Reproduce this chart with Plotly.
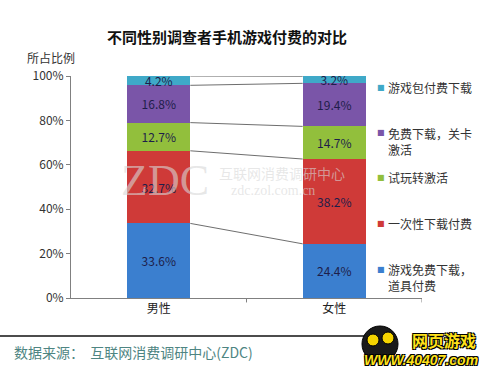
import plotly.graph_objects as go

categories = ["男性", "女性"]
series_names = ["游戏免费下载，道具付费", "一次性下载付费", "试玩转激活", "免费下载，关卡激活", "游戏包付费下载"]
legend_labels = ["游戏免费下载，<br>道具付费", "一次性下载付费", "试玩转激活", "免费下载，关卡<br>激活", "游戏包付费下载"]
male_values = [33.6, 32.7, 12.7, 16.8, 4.2]
female_values = [24.4, 38.2, 14.7, 19.4, 3.2]
colors = ["#3b7fcf", "#cf3a38", "#92bf3c", "#7a55a8", "#3fa9c8"]
y_ticks = [0, 20, 40, 60, 80, 100]
y_tick_labels = ["0%", "20%", "40%", "60%", "80%", "100%"]

FONT = "Noto Sans CJK SC"
BAR_WIDTH = 0.36

# plot area in pixels: x 71..422, y 76..298
PL, PR, PT, PB = 71, 422, 76, 298
def px(xp):
    return (xp - PL) / (PR - PL)
def py(yp):
    return (PB - yp) / (PB - PT)

fig = go.Figure()
for i, name in enumerate(series_names):
    vals = [male_values[i], female_values[i]]
    fig.add_trace(go.Bar(
        x=[0, 1], y=vals, name=name, width=BAR_WIDTH,
        marker=dict(color=colors[i], line=dict(width=0)),
        text=[f"{v:.1f}%" for v in vals],
        textposition="inside", insidetextanchor="middle",
        textfont=dict(family=FONT, size=12, color="#1e1e4a"),
        showlegend=False,
    ))

# connector lines between bars
male_cum, female_cum = [], []
m = f = 0
for a, b in zip(male_values, female_values):
    m += a; f += b
    male_cum.append(m); female_cum.append(f)
shapes = []
for mc, fc in zip(male_cum, female_cum):
    shapes.append(dict(type="line", xref="x", yref="y",
                       x0=0 + BAR_WIDTH / 2, x1=1 - BAR_WIDTH / 2,
                       y0=min(mc, 100), y1=min(fc, 100),
                       line=dict(color="#6e6e6e", width=1), layer="below"))

# bottom separator line
shapes.append(dict(type="line", xref="paper", yref="paper",
                   x0=px(0), x1=px(368), y0=py(336), y1=py(336),
                   line=dict(color="#111111", width=1.5)))
# logo face
shapes.append(dict(type="circle", xref="paper", yref="paper",
                   x0=px(362), x1=px(398), y0=py(362), y1=py(326),
                   fillcolor="#1a1a1a", line=dict(color="#000", width=1)))
for cx, cy in [(373, 340), (388, 338)]:
    shapes.append(dict(type="circle", xref="paper", yref="paper",
                       x0=px(cx - 6), x1=px(cx + 6), y0=py(cy + 6), y1=py(cy - 6),
                       fillcolor="#f5d400", line=dict(color="#000", width=1)))

annotations = []
# legend (custom positioned)
legend_py = [277, 223, 177, 141, 87]
square_py = [269, 223, 177, 132, 87]
for i in range(5):
    annotations.append(dict(xref="paper", yref="paper", x=px(381), y=py(square_py[i]),
                            text="■", showarrow=False, xanchor="center", yanchor="middle",
                            font=dict(family="DejaVu Sans", size=8, color=colors[i])))
    annotations.append(dict(xref="paper", yref="paper", x=px(386), y=py(legend_py[i]),
                            text=legend_labels[i], showarrow=False, xanchor="left",
                            yanchor="middle", align="left",
                            font=dict(family=FONT, size=12, color="#333333")))

# y axis title
annotations.append(dict(xref="paper", yref="paper", x=px(51), y=py(58), text="所占比例",
                        showarrow=False, xanchor="center", yanchor="middle",
                        font=dict(family=FONT, size=12, color="#333333")))
# source text
annotations.append(dict(xref="paper", yref="paper", x=px(12), y=py(352),
                        text="数据来源：  互联网消费调研中心(ZDC)", showarrow=False,
                        xanchor="left", yanchor="middle",
                        font=dict(family=FONT, size=14, color="#4e8582")))
# watermark
annotations.append(dict(xref="paper", yref="paper", x=px(165), y=py(180), text="ZDC",
                        showarrow=False, xanchor="center", yanchor="middle",
                        font=dict(family="Liberation Serif", size=44, color="rgba(215,215,215,0.6)")))
annotations.append(dict(xref="paper", yref="paper", x=px(282), y=py(173), text="互联网消费调研中心",
                        showarrow=False, xanchor="center", yanchor="middle",
                        font=dict(family=FONT, size=14, color="rgba(215,215,215,0.6)")))
annotations.append(dict(xref="paper", yref="paper", x=px(273), y=py(190), text="zdc.zol.com.cn",
                        showarrow=False, xanchor="center", yanchor="middle",
                        font=dict(family="Liberation Serif", size=14, color="rgba(215,215,215,0.6)")))
# logo approximation
outline = "1px 1px 0px #000, -1px -1px 0px #000, 1px -1px 0px #000, -1px 1px 0px #000"
annotations.append(dict(xref="paper", yref="paper", x=px(444), y=py(340), text="<b>网页游戏</b>",
                        showarrow=False, xanchor="center", yanchor="middle",
                        font=dict(family=FONT, size=16, color="#ffe21a", shadow=outline)))
annotations.append(dict(xref="paper", yref="paper", x=px(421), y=py(360), text="<b><i>WWW.40407.com</i></b>",
                        showarrow=False, xanchor="center", yanchor="middle",
                        font=dict(family="Liberation Sans", size=14, color="#ffe21a", shadow=outline)))

fig.update_layout(
    width=490, height=368,
    margin=dict(l=PL, r=490 - PR, t=PT, b=368 - PB, autoexpand=False),
    paper_bgcolor="white", plot_bgcolor="white",
    barmode="stack",
    title=dict(text="<b>不同性别调查者手机游戏付费的对比</b>", x=227 / 490, xanchor="center",
               y=1 - 38 / 368, yanchor="middle", font=dict(family=FONT, size=15, color="#111111")),
    xaxis=dict(range=[-0.5, 1.5], tickvals=[0, 1], ticktext=categories,
               showline=True, linecolor="#808080", linewidth=1,
               ticks="", showgrid=False, zeroline=False,
               tickfont=dict(family=FONT, size=12, color="#222222")),
    yaxis=dict(range=[0, 100], tickvals=y_ticks, ticktext=y_tick_labels,
               showline=True, linecolor="#808080", linewidth=1,
               ticks="outside", ticklen=4, tickcolor="#808080",
               showgrid=False, zeroline=False,
               tickfont=dict(family=FONT, size=12, color="#333333")),
    uniformtext=dict(minsize=12, mode="show"),
    shapes=shapes, annotations=annotations,
)
# category boundary tick marks
for xb in [0.5, 1.5]:
    fig.add_shape(type="line", xref="x", yref="paper", x0=xb, x1=xb, y0=0, y1=-0.02,
                  line=dict(color="#808080", width=1))

fig.write_html("out.html", config={"displayModeBar": False},
               post_script="document.body.style.margin='0';document.body.style.padding='0';")
